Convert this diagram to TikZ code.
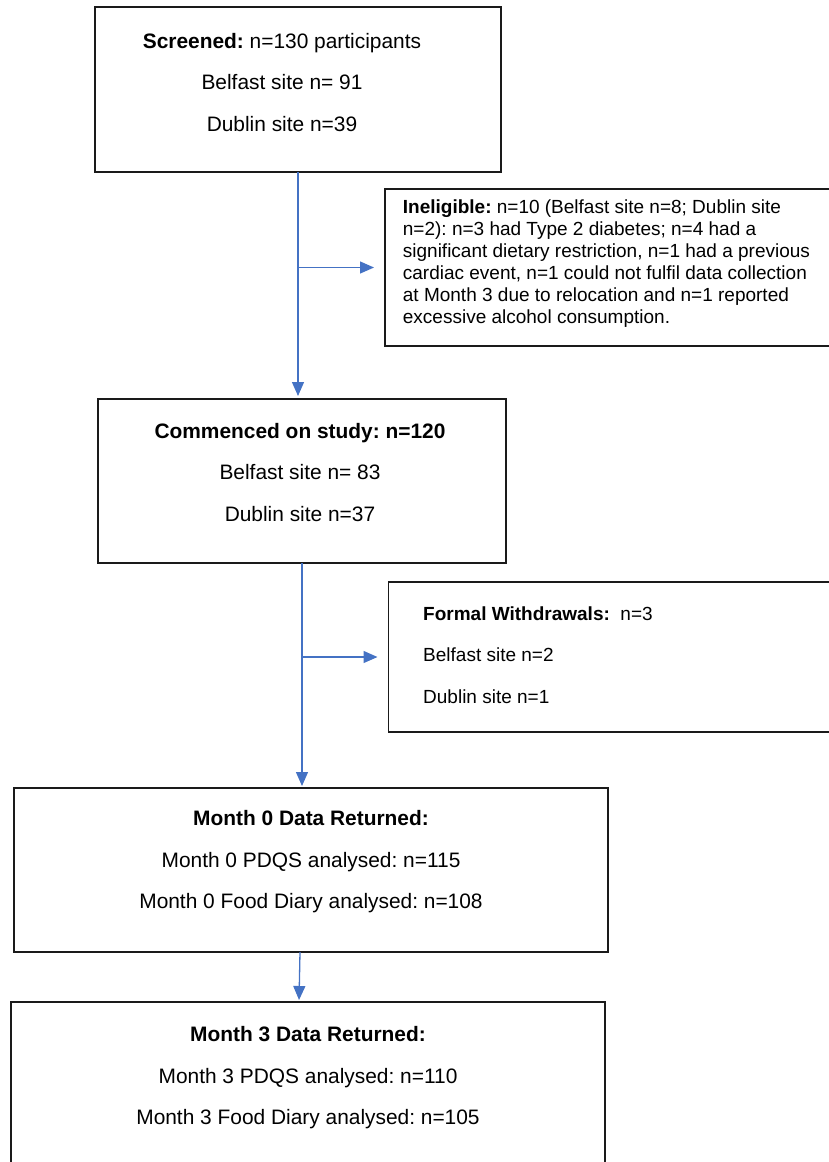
\documentclass[tikz,border=0pt]{standalone}
\usepackage{fontspec}
\setmainfont{Liberation Sans}
\frenchspacing
\usetikzlibrary{arrows.meta}
\definecolor{arrowblue}{HTML}{4472C4}
\definecolor{boxline}{HTML}{1A1A1A}
\tikzset{
  box/.style={draw=boxline, line width=1.8pt, rectangle, inner sep=0pt, outer sep=0pt},
  maintext/.style={align=center, font=\fontsize{20.9}{41.5}\selectfont, inner sep=0pt},
  sidetext/.style={align=left, font=\fontsize{19}{22}\selectfont, inner sep=0pt, anchor=west},
  sidetextwide/.style={align=left, font=\fontsize{19}{41.5}\selectfont, inner sep=0pt, anchor=west},
  arr/.style={draw=arrowblue, line width=1.3pt, -{Triangle[length=14pt,width=12pt]}, arrowblue}
}
\begin{document}
\begin{tikzpicture}[x=1pt,y=-1pt]
\useasboundingbox (0,0) rectangle (829,1162);
\clip (0,0) rectangle (829,1162);
% boxes
\node[box, minimum width=406pt, minimum height=165pt] (b1) at (298,89.5) {};
\node[box, minimum width=455pt, minimum height=157pt] (inel) at (612.5,267.5) {};
\node[box, minimum width=408pt, minimum height=164pt] (b2) at (302,481) {};
\node[box, minimum width=451.5pt, minimum height=150pt] (wd) at (614.25,657) {};
\node[box, minimum width=594pt, minimum height=164pt] (b3) at (311,870) {};
\node[box, minimum width=594pt, minimum height=178pt] (b4) at (308,1091) {};
% texts
\node[maintext] (t1) at (282,82.5) {\textbf{Screened:} n=130 participants\\Belfast site n= 91\\Dublin site n=39};
\node[sidetext] (tin) at (402.7,264) {\textbf{Ineligible:} n=10 (Belfast site n=8; Dublin site\\n=2): n=3 had Type 2 diabetes; n=4 had a\\significant dietary restriction, n=1 had a previous\\cardiac event, n=1 could not fulfil data collection\\at Month 3 due to relocation and n=1 reported\\excessive alcohol consumption.};
\node[maintext] (t2) at (300,472.5) {\textbf{Commenced on study: n=120}\\Belfast site n= 83\\Dublin site n=37};
\node[sidetextwide] (twd) at (423,655) {\textbf{Formal Withdrawals:}\ \ n=3\\Belfast site n=2\\Dublin site n=1};
\node[maintext] (t3) at (311,862) {\textbf{Month 0 Data Returned:}\\Month 0 PDQS analysed: n=115\\Month 0 Food Diary analysed: n=108};
\node[maintext] (t4) at (308,1078) {\textbf{Month 3 Data Returned:}\\Month 3 PDQS analysed: n=110\\Month 3 Food Diary analysed: n=105};
% connectors
\draw[arr, shorten >=3pt] (b1.south) -- (b1.south |- b2.north);
\draw[arr, shorten >=11pt] (b1.south |- inel.west) -- (inel.west);
\draw[arr, shorten >=2pt] (b2.south) -- (b2.south |- b3.north);
\draw[arr, shorten >=11pt] (b2.south |- wd.west) -- (wd.west);
\draw[arr, shorten >=2pt] ([xshift=-2pt]b2.south |- b3.south) -- ([xshift=-3pt]b2.south |- b4.north);
\end{tikzpicture}
\end{document}
